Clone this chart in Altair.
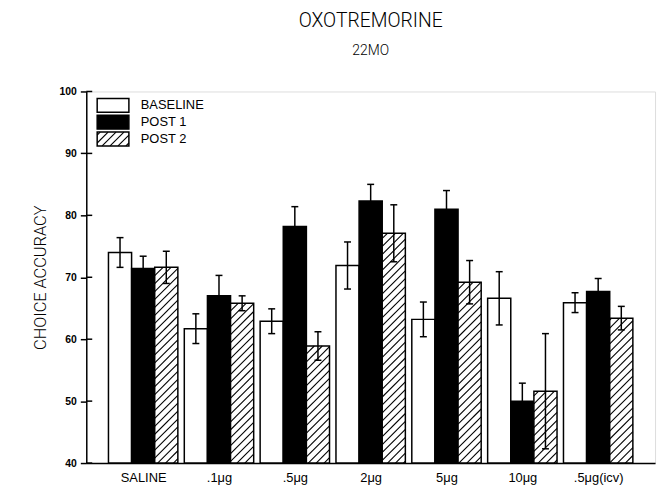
import json
import altair as alt
import pandas as pd

# ---- data ----
categories = ["SALINE", ".1μg", ".5μg", "2μg", "5μg", "10μg", ".5μg(icv)"]
series = ["BASELINE", "POST 1", "POST 2"]
baseline = [74.0, 61.7, 62.9, 71.9, 63.2, 66.6, 65.9]
baseline_err = [2.4, 2.4, 2.0, 3.8, 2.8, 4.3, 1.6]
post1 = [71.4, 67.0, 78.2, 82.3, 81.0, 50.0, 67.7]
post1_err = [2.0, 3.3, 3.2, 2.7, 3.0, 2.9, 2.1]
post2 = [71.6, 65.8, 58.9, 77.1, 69.2, 51.6, 63.4]
post2_err = [2.6, 1.2, 2.3, 4.6, 3.5, 9.3, 1.9]
y_ticks = [40, 50, 60, 70, 80, 90, 100]

values = [baseline, post1, post2]
errors = [baseline_err, post1_err, post2_err]

# ---- layout ----
W, H = 574, 375
XMIN, XMAX = -0.75, len(categories) - 0.25
YMIN, YMAX = 40, 100
PX = W / (XMAX - XMIN)
PY = H / (YMAX - YMIN)
GROUP = 0.915
BW = GROUP / 3
CAPW = 3.5 / PX
HATCH = 8.0

def px2x(u):
    return XMIN + u / PX

def px2y(v):  # v measured upward from plot bottom
    return YMIN + v / PY

def hatch(xl, xr, yb, yt):
    ul, ur = (xl - XMIN) * PX, (xr - XMIN) * PX
    vb, vt = (yb - YMIN) * PY, (yt - YMIN) * PY
    segs = []
    k0 = int((ul - vt) // HATCH) - 1
    k1 = int((ur - vb) // HATCH) + 1
    for k in range(k0, k1 + 1):
        c = k * HATCH
        u1 = max(ul, vb + c)
        u2 = min(ur, vt + c)
        if u2 - u1 > 0.5:
            segs.append(dict(hx=px2x(u1), hy=px2y(u1 - c), hx2=px2x(u2), hy2=px2y(u2 - c)))
    return segs

rows = []
hatch_rows = []
for i, cat in enumerate(categories):
    for j, s in enumerate(series):
        v = values[j][i]
        e = errors[j][i]
        x0 = i - GROUP / 2 + j * BW
        xc = x0 + BW / 2
        rows.append(dict(cat=cat, series=s, x0=x0, x1=x0 + BW, xc=xc, y=v, base=YMIN,
                         lo=v - e, hi=v + e, cl=xc - CAPW, cr=xc + CAPW))
        if j == 2:
            hatch_rows += hatch(x0, x0 + BW, YMIN, v)
df = pd.DataFrame(rows)

# legend (built from series names, positioned inside plot top-left)
leg_rows = []
for j, s in enumerate(series):
    cy = 14 + 17 * j  # px from plot top
    top, bot = cy - 7, cy + 7
    r = dict(series=s, lx0=px2x(11), lx1=px2x(43), ly0=px2y(H - bot), ly1=px2y(H - top),
             tx=px2x(55), ty=px2y(H - cy))
    leg_rows.append(r)
    if j == 2:
        hatch_rows += hatch(r["lx0"], r["lx1"], r["ly0"], r["ly1"])
leg = pd.DataFrame(leg_rows)
hat = pd.DataFrame(hatch_rows)

ticks_df = pd.DataFrame(dict(t=y_ticks, tx0=[XMIN] * len(y_ticks), tx1=[px2x(6)] * len(y_ticks)))

xscale = alt.Scale(domain=[XMIN, XMAX], nice=False, zero=False)
yscale = alt.Scale(domain=[YMIN, YMAX], nice=False, zero=False)
fill = alt.Color("series:N", scale=alt.Scale(domain=series, range=["white", "black", "white"]), legend=None)

label_expr = json.dumps(categories, ensure_ascii=False) + "[datum.value]"

xaxis = alt.Axis(values=list(range(len(categories))), labelExpr=label_expr, tickSize=0,
                 labelPadding=9, labelFontSize=13, labelFont="Liberation Sans", labelColor="black",
                 domainColor="black", domainWidth=1.5, grid=False, title=None)
yaxis = alt.Axis(values=y_ticks, tickSize=6, tickWidth=1.5, tickColor="black", labelPadding=4,
                 labelFontSize=10.5, labelFont="Liberation Sans", labelFontWeight="bold",
                 labelColor="black", domainColor="black", domainWidth=1.5, grid=False,
                 title="CHOICE ACCURACY", titleFont="Roboto", titleFontWeight=300,
                 titleFontSize=16.5, titleColor="black", titlePadding=11)

bars = alt.Chart(df).mark_rect(stroke="black", strokeWidth=1.5).encode(
    x=alt.X("x0:Q", scale=xscale, axis=xaxis),
    x2="x1:Q",
    y=alt.Y("y:Q", scale=yscale, axis=yaxis),
    y2="base:Q",
    fill=fill,
)

leg_rect = alt.Chart(leg).mark_rect(stroke="black", strokeWidth=1.5).encode(
    x="lx0:Q", x2="lx1:Q", y="ly0:Q", y2="ly1:Q", fill=fill
)

hatches = alt.Chart(hat).mark_rule(color="black", strokeWidth=1.1).encode(
    x="hx:Q", x2="hx2:Q", y="hy:Q", y2="hy2:Q"
)

err = alt.Chart(df).mark_rule(color="black", strokeWidth=1.5).encode(
    x="xc:Q", y="lo:Q", y2="hi:Q"
)
cap_hi = alt.Chart(df).mark_rule(color="black", strokeWidth=1.5).encode(
    x="cl:Q", x2="cr:Q", y="hi:Q"
)
cap_lo = alt.Chart(df).mark_rule(color="black", strokeWidth=1.5).encode(
    x="cl:Q", x2="cr:Q", y="lo:Q"
)

leg_text = alt.Chart(leg).mark_text(align="left", baseline="middle", fontSize=13,
                                    font="Liberation Sans", color="black").encode(
    x="tx:Q", y="ty:Q", text="series:N"
)

inner_ticks = alt.Chart(ticks_df).mark_rule(color="black", strokeWidth=1.5).encode(
    x="tx0:Q", x2="tx1:Q", y="t:Q"
)

chart = alt.layer(bars, leg_rect, hatches, err, cap_hi, cap_lo, leg_text, inner_ticks)

chart = chart.properties(
    width=W, height=H,
    title=alt.Title("OXOTREMORINE", subtitle="22MO", anchor="middle", font="Roboto",
                    fontWeight=300, fontSize=19.5, color="black", subtitleFont="Roboto",
                    subtitleFontWeight=300, subtitleFontSize=14, subtitleColor="black",
                    subtitlePadding=13, offset=28),
    autosize=alt.AutoSizeParams(type="none"),
    padding={"left": 79, "top": 82, "right": 5, "bottom": 30},
).configure_view(stroke="black", strokeWidth=1.5).configure(background="white")

chart.save("out.html", embed_options={"renderer": "svg", "actions": False})
